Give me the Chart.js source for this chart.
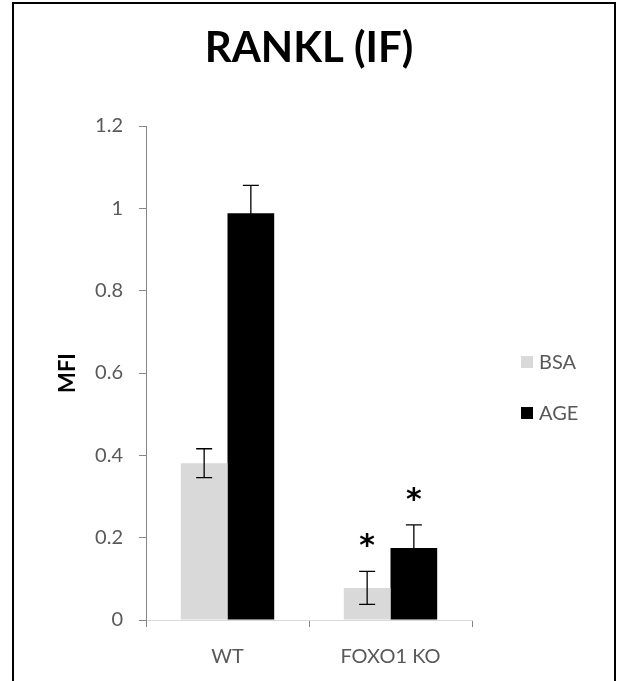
<!DOCTYPE html>
<html>
<head>
<meta charset="utf-8">
<script src="https://cdn.jsdelivr.net/npm/chart.js@4.4.1/dist/chart.umd.min.js"></script>
<style>
  html, body { margin: 0; padding: 0; background: #ffffff; }
  #wrap { position: relative; width: 618px; height: 681px; overflow: hidden; }
  #frame { position: absolute; left: 12px; top: 2px; width: 600px; height: 700px;
           border: 2px solid #000; border-bottom: none; pointer-events: none; }
  canvas { position: absolute; left: 0; top: 0; }
</style>
</head>
<body>
<div id="wrap">
  <canvas id="c" width="618" height="681"></canvas>
  <div id="frame"></div>
</div>
<script>
// ---- data ----
const categories = ['WT', 'FOXO1 KO'];
const seriesNames = ['BSA', 'AGE'];
const bsaValues = [0.381, 0.078];
const ageValues = [0.988, 0.175];
const bsaErrors = [0.035, 0.040];
const ageErrors = [0.068, 0.056];
const bsaSignificant = [false, true];
const ageSignificant = [false, true];
const yTickLabels = ['0', '0.2', '0.4', '0.6', '0.8', '1', '1.2'];
const chartTitle = 'RANKL (IF)';
const yAxisTitle = 'MFI';

const FONT = 'Lato, "Open Sans", sans-serif';
const TEXT = '#595959';
const seriesColors = ['#d9d9d9', '#000000'];

const centerTitle = {
  id: 'centerTitle',
  afterLayout(chart) {
    const t = chart.titleBlock;
    if (t) { t.left = 0; t.right = chart.width; t.width = chart.width; }
  }
};

const errorBars = {
  id: 'errorBars',
  afterDatasetsDraw(chart) {
    const ctx = chart.ctx;
    const y = chart.scales.y;
    const errs = [bsaErrors, ageErrors];
    const vals = [bsaValues, ageValues];
    const sig = [bsaSignificant, ageSignificant];
    ctx.save();
    chart.data.datasets.forEach((ds, di) => {
      const meta = chart.getDatasetMeta(di);
      meta.data.forEach((bar, i) => {
        const v = vals[di][i], e = errs[di][i];
        const x = bar.x;
        const yt = y.getPixelForValue(v + e);
        const yb = y.getPixelForValue(v - e);
        ctx.strokeStyle = '#000';
        ctx.lineWidth = 1.3;
        ctx.beginPath();
        ctx.moveTo(x, yt); ctx.lineTo(x, yb);
        ctx.moveTo(x - 8, yt); ctx.lineTo(x + 8, yt);
        ctx.moveTo(x - 8, yb); ctx.lineTo(x + 8, yb);
        ctx.stroke();
        if (sig[di][i]) {
          ctx.fillStyle = '#000';
          ctx.font = 'bold 30px "DejaVu Sans", sans-serif';
          ctx.textAlign = 'center';
          ctx.textBaseline = 'alphabetic';
          ctx.fillText('*', x, yt - 16);
        }
      });
    });
    ctx.restore();
  }
};

const sideLegend = {
  id: 'sideLegend',
  afterDraw(chart) {
    const ctx = chart.ctx;
    const rows = [362, 413];
    ctx.save();
    chart.data.datasets.forEach((ds, i) => {
      const cy = rows[i];
      ctx.fillStyle = ds.backgroundColor;
      ctx.fillRect(521, cy - 6, 12, 12);
      ctx.fillStyle = TEXT;
      ctx.font = '20px ' + FONT;
      ctx.textAlign = 'left';
      ctx.textBaseline = 'middle';
      ctx.fillText(ds.label, 539, cy + 1);
    });
    ctx.restore();
  }
};

new Chart(document.getElementById('c'), {
  type: 'bar',
  data: {
    labels: categories,
    datasets: [
      { label: seriesNames[0], data: bsaValues, backgroundColor: seriesColors[0],
        categoryPercentage: 0.573, barPercentage: 1.0 },
      { label: seriesNames[1], data: ageValues, backgroundColor: seriesColors[1],
        categoryPercentage: 0.573, barPercentage: 1.0 }
    ]
  },
  options: {
    responsive: false,
    animation: false,
    devicePixelRatio: 1,
    layout: { padding: { left: 0, top: 0, right: 146, bottom: 0 } },
    plugins: {
      legend: { display: false },
      tooltip: { enabled: false },
      title: {
        display: true,
        text: chartTitle,
        color: '#000',
        font: { family: FONT, size: 42, weight: 'bold' },
        padding: { top: 23, bottom: 52.6 }
      }
    },
    scales: {
      x: {
        grid: { offset: true, drawOnChartArea: false, drawTicks: true, tickLength: 7, tickColor: '#868686' },
        border: { color: '#d9d9d9', width: 1 },
        ticks: { color: TEXT, font: { family: FONT, size: 20 }, padding: 18, maxRotation: 0 },
        afterFit(s) { s.height = 61; }
      },
      y: {
        min: 0, max: 1.2,
        ticks: {
          stepSize: 0.2,
          color: TEXT,
          font: { family: FONT, size: 20 },
          padding: 16,
          callback: (v, i) => yTickLabels[i]
        },
        grid: { drawOnChartArea: false, drawTicks: true, tickLength: 7, tickColor: '#868686' },
        border: { color: '#868686', width: 1 },
        title: {
          display: true, text: yAxisTitle, color: '#000',
          font: { family: FONT, size: 22, weight: 'bold' },
          padding: { top: 54.8, bottom: 0 }
        },
        afterFit(s) { s.width = 146; }
      }
    }
  },
  plugins: [centerTitle, errorBars, sideLegend]
});
</script>
</body>
</html>
